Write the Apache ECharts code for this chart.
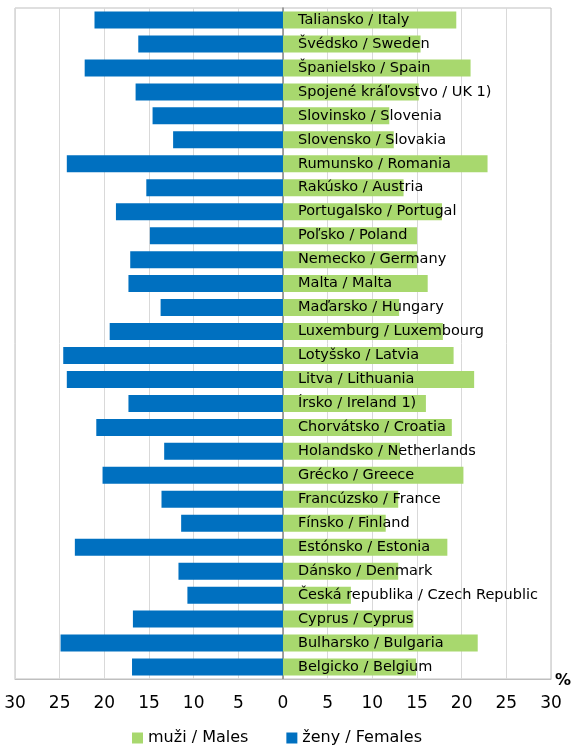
<!DOCTYPE html>
<html>
<head>
<meta charset="utf-8">
<script src="https://cdn.jsdelivr.net/npm/echarts@6/dist/echarts.min.js"></script>
<style>
  html, body { margin: 0; padding: 0; background: #fff; }
  #chart { width: 574px; height: 750px; }
</style>
</head>
<body>
<div id="chart"></div>
<script>
// krajiny zhora nadol
var categories = [
	"Taliansko / Italy", "Švédsko / Sweden", "Španielsko / Spain", "Spojené kráľovstvo / UK 1)",
	"Slovinsko / Slovenia", "Slovensko / Slovakia", "Rumunsko / Romania", "Rakúsko / Austria",
	"Portugalsko / Portugal", "Poľsko / Poland", "Nemecko / Germany", "Malta / Malta",
	"Maďarsko / Hungary", "Luxemburg / Luxembourg", "Lotyšsko / Latvia", "Litva / Lithuania",
	"Írsko / Ireland 1)", "Chorvátsko / Croatia", "Holandsko / Netherlands", "Grécko / Greece",
	"Francúzsko / France", "Fínsko / Finland", "Estónsko / Estonia", "Dánsko / Denmark",
	"Česká republika / Czech Republic", "Cyprus / Cyprus", "Bulharsko / Bulgaria", "Belgicko / Belgium"
];
var males = [19.4, 15.4, 21.0, 15.2, 11.9, 12.4, 22.9, 13.5, 17.8, 15.0, 15.0, 16.2, 13.0, 17.9,
	19.1, 21.4, 16.0, 18.9, 13.1, 20.2, 12.9, 11.5, 18.4, 12.9, 7.6, 14.6, 21.8, 14.9];
var females = [21.1, 16.2, 22.2, 16.5, 14.6, 12.3, 24.2, 15.3, 18.7, 14.9, 17.1, 17.3, 13.7, 19.4,
	24.6, 24.2, 17.3, 20.9, 13.3, 20.2, 13.6, 11.4, 23.3, 11.7, 10.7, 16.8, 24.9, 16.9];
var xTicks = { min: -30, max: 30, interval: 5 };
var legendNames = ["muži / Males", "ženy / Females"];

var font = "DejaVu Sans";
var myChart = echarts.init(document.getElementById("chart"));

var option = {
	animation : false,
	textStyle : { fontFamily : font },
	grid : {
		left : 15, right : 21, top : 8, bottom : 71,
		show : true, borderColor : "#bfbfbf", borderWidth : 1
	},
	legend : {
		bottom : -1,
		left : 127,
		data : legendNames,
		icon : "rect",
		itemWidth : 11,
		itemHeight : 11,
		itemGap : 38,
		textStyle : { fontSize : 16, color : "#000", fontFamily : font }
	},
	xAxis : {
		type : "value",
		min : xTicks.min,
		max : xTicks.max,
		interval : xTicks.interval,
		name : "%",
		nameLocation : "end",
		nameGap : 4,
		nameTextStyle : { fontSize : 16, fontWeight : "bold", color : "#000", verticalAlign : "top", padding : [-6, 0, 0, 0] },
		axisLine : { show : true, lineStyle : { color : "#bfbfbf" } },
		axisTick : { show : false },
		axisLabel : {
			margin : 16,
			fontSize : 17,
			color : "#000",
			formatter : function(v){ return Math.abs(v); }
		},
		splitLine : { show : true, lineStyle : { color : "#d9d9d9", width : 1 } }
	},
	yAxis : {
		type : "category",
		data : categories,
		inverse : true,
		axisLine : { show : true, onZero : true, lineStyle : { color : "#868686", width : 1.5 } },
		axisTick : { show : false },
		axisLabel : { show : false },
		splitLine : { show : false }
	},
	series : [
		{
			name : legendNames[0],
			type : "bar",
			data : males,
			barWidth : 17,
			barGap : "-100%",
			itemStyle : { color : "#a8d86e" },
			label : {
				show : true,
				position : "insideLeft",
				distance : 15,
				formatter : "{b}",
				color : "#000",
				fontSize : 14.5,
				fontFamily : font
			},
			z : 3
		},
		{
			name : legendNames[1],
			type : "bar",
			data : females.map(function(v){ return -v; }),
			barWidth : 17,
			barGap : "-100%",
			itemStyle : { color : "#0070c0" }
		}
	]
};
myChart.setOption(option);
</script>
</body>
</html>
